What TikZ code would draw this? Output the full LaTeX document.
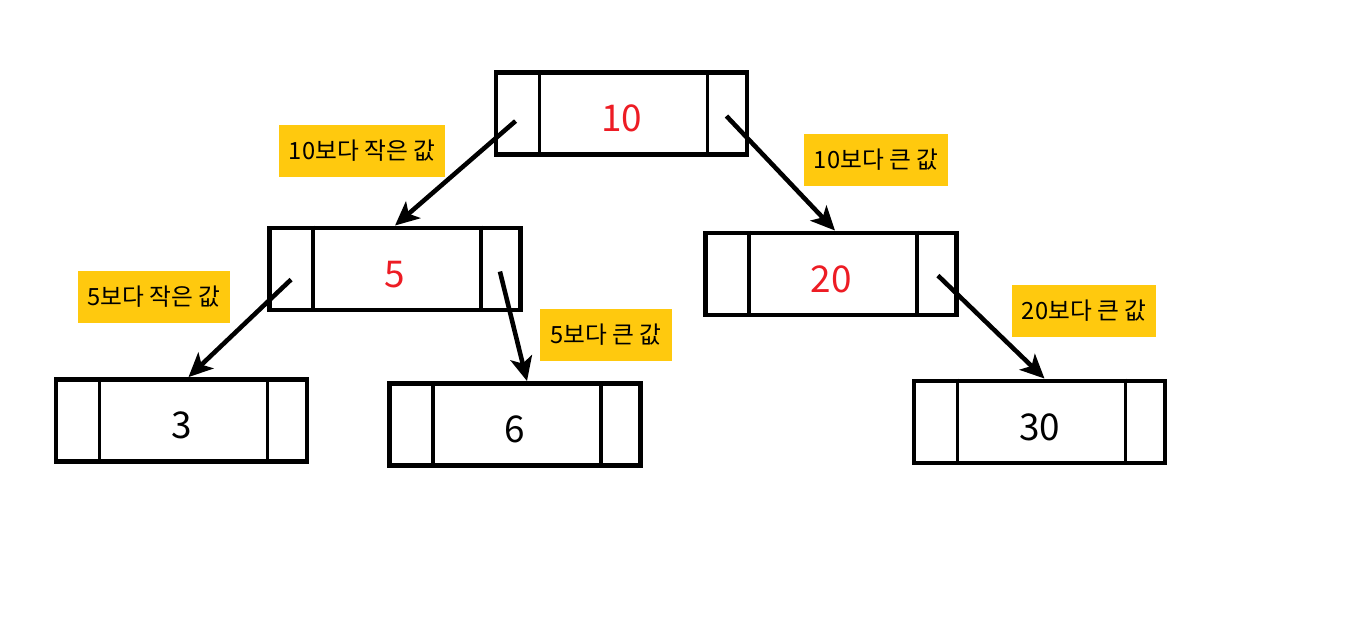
\documentclass[tikz,border=0pt]{standalone}
\usepackage{fontspec}
\setmainfont{Noto Sans CJK KR}
\usetikzlibrary{arrows.meta}
\definecolor{paintred}{RGB}{237,28,36}
\definecolor{paintgold}{RGB}{255,201,14}

\begin{document}
\begin{tikzpicture}[x=0.02cm,y=-0.02cm,
  cell/.style={draw,line width=2.8pt,minimum width=5.02cm,minimum height=1.64cm,inner sep=0pt,text height=0.72cm,text depth=0pt,font=\fontsize{21}{24}\selectfont},
  key/.style={text=paintred},
  tag/.style={fill=paintgold,minimum height=1.04cm,inner xsep=0.2cm,font=\fontsize{13.5}{15}\selectfont},
  link/.style={line width=2.6pt,-{Stealth[length=0.48cm,width=0.44cm,inset=0.12cm]}},
  wall/.style={line width=2pt}]
\useasboundingbox (0,0) rectangle (1350,629);
% boxes
\node[cell,key] (n10) at (621.5,113.5) {10};
\node[cell,key] (n5) at (395,269) {5};
\node[cell,key] (n20) at (831,274) {20};
\node[cell] (n3) at (181.5,420.5) {3};
\node[cell] (n6) at (515,424.5) {6};
\node[cell] (n30) at (1039.5,422) {30};
\foreach \n in {n10,n5,n20,n3,n6,n30} {
  \draw[wall] ([xshift=0.92cm]\n.north west) -- ([xshift=0.92cm]\n.south west);
  \draw[wall] ([xshift=-0.84cm]\n.north east) -- ([xshift=-0.84cm]\n.south east);
}
% labels
\node[tag] (t10l) at (362,151) {10보다 작은 값};
\node[tag] (t10r) at (876,160) {10보다 큰 값};
\node[tag] (t5l) at (154,297) {5보다 작은 값};
\node[tag] (t5r) at (606,335) {5보다 큰 값};
\node[tag] (t20r) at (1084,311) {20보다 큰 값};
% links
\draw[link] ([xshift=0.44cm,yshift=-1.02cm]n10.north west) -- (n5.north);
\draw[link] ([xshift=-0.46cm,yshift=-0.92cm]n10.north east) -- ([xshift=0.08cm]n20.north);
\draw[link] ([xshift=0.48cm,yshift=-1.08cm]n5.north west) -- ([xshift=0.14cm]n3.north);
\draw[link] ([xshift=-0.46cm,yshift=-0.92cm]n5.north east) -- ([xshift=0.24cm]n6.north);
\draw[link] ([xshift=-0.42cm,yshift=-0.9cm]n20.north east) -- ([xshift=0.1cm]n30.north);
\end{tikzpicture}
\end{document}
